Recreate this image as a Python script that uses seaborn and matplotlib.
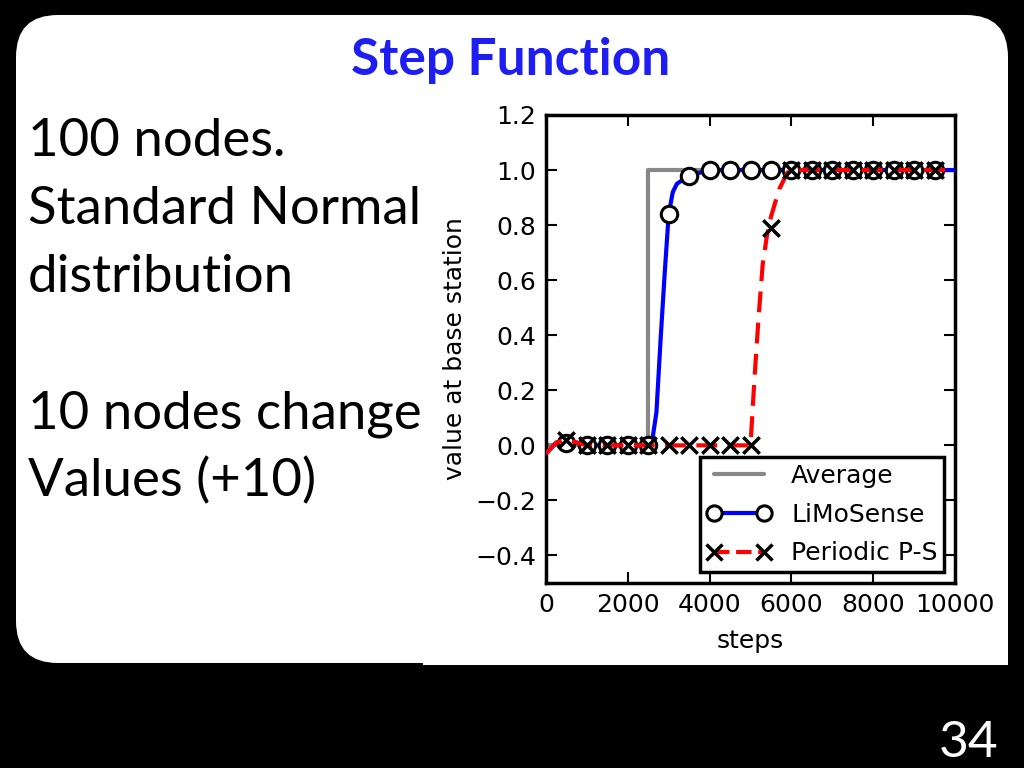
import matplotlib
matplotlib.use("Agg")
import matplotlib.pyplot as plt
from matplotlib.patches import FancyBboxPatch, Rectangle
from matplotlib.lines import Line2D
import numpy as np
import pandas as pd
import seaborn as sns

# --- data ---
avg_steps = [0, 2500, 2500, 10000]
avg_vals = [0.0, 0.0, 1.0, 1.0]

limo_steps = [0, 250, 500, 1000, 1500, 2000, 2500, 2600, 2700, 2800, 2900, 3000,
              3100, 3200, 3300, 3500, 3750, 4000, 10000]
limo_vals = [-0.03, 0.01, 0.02, 0.0, 0.0, 0.0, 0.0, 0.02, 0.12, 0.38, 0.62, 0.84,
             0.92, 0.95, 0.96, 0.98, 0.99, 1.0, 1.0]

ps_steps = [0, 250, 500, 1000, 1500, 2000, 2500, 3000, 3500, 4000, 4500, 5000,
            5100, 5200, 5300, 5400, 5500, 5600, 5700, 5800, 5900, 6000, 10000]
ps_vals = [-0.03, 0.01, 0.02, 0.0, 0.0, 0.0, 0.0, 0.0, 0.0, 0.0, 0.0, 0.0,
           0.25, 0.47, 0.66, 0.76, 0.83, 0.88, 0.93, 0.96, 0.99, 1.0, 1.0]

# markers every 500 steps, starting at 500
mark_steps = [500, 1000, 1500, 2000, 2500, 3000, 3500, 4000, 4500,
              5000, 5500, 6000, 6500, 7000, 7500, 8000, 8500, 9000, 9500]
limo_marks = [0.01, 0.0, 0.0, 0.0, 0.0, 0.84, 0.98, 1.0, 1.0,
              1.0, 1.0, 1.0, 1.0, 1.0, 1.0, 1.0, 1.0, 1.0, 1.0]
ps_marks = [0.02, 0.0, 0.0, 0.0, 0.0, 0.0, 0.0, 0.0, 0.0,
            0.0, 0.79, 1.0, 1.0, 1.0, 1.0, 1.0, 1.0, 1.0, 1.0]

x_ticks = [0, 2000, 4000, 6000, 8000, 10000]
y_ticks = [-0.4, -0.2, 0.0, 0.2, 0.4, 0.6, 0.8, 1.0, 1.2]

slide_title = "Step Function"
slide_lines = ["100 nodes.", "Standard Normal", "distribution", "", "10 nodes change", "Values (+10)"]
page_no = "34"

sns.set_style("ticks")
plt.rcParams['font.family'] = ['DejaVu Sans']
plt.rcParams['text.color'] = 'black'
plt.rcParams['axes.labelcolor'] = 'black'
slide_font = 'Lato'

fig = plt.figure(figsize=(10.24, 7.68), dpi=100, facecolor='black')

# background "slide" drawn in pixel coordinates
bg = fig.add_axes([0, 0, 1, 1])
bg.set_xlim(0, 1024)
bg.set_ylim(768, 0)
bg.axis('off')
bg.add_patch(FancyBboxPatch((16, 15), 992, 648, boxstyle='round,pad=0,rounding_size=42',
                            facecolor='white', edgecolor='none'))
bg.add_patch(Rectangle((423, 400), 585, 265, facecolor='white', edgecolor='none'))

bg.text(511, 75, slide_title, ha='center', va='baseline', fontsize=37,
        fontweight='bold', color='#1E1EF2', family=slide_font)
y0 = 156
for i, line in enumerate(slide_lines):
    bg.text(28, y0 + 68 * i, line, ha='left', va='baseline', fontsize=38,
            color='black', family=slide_font)
bg.text(998, 757, page_no, ha='right', va='baseline', fontsize=37,
        color='white', family=slide_font)

# --- chart ---
ax = fig.add_axes([546 / 1024, 1 - 583 / 768, 409 / 1024, 468 / 768])
ax.set_facecolor('white')

sns.lineplot(x=avg_steps, y=avg_vals, ax=ax, estimator=None, sort=False,
             color='#888888', linewidth=3, zorder=2)
sns.lineplot(x=limo_steps, y=limo_vals, ax=ax, estimator=None, sort=False,
             color='blue', linewidth=3, zorder=3)
sns.scatterplot(x=mark_steps, y=limo_marks, ax=ax, marker='o', s=140,
                facecolor='white', edgecolor='black', linewidth=2.2, zorder=4)
sns.lineplot(x=ps_steps, y=ps_vals, ax=ax, estimator=None, sort=False,
             color='red', linewidth=3, dashes=False, zorder=5)
ax.lines[-1].set_dashes((5, 2.5))
sns.scatterplot(x=mark_steps, y=ps_marks, ax=ax, marker='x', s=140,
                color='black', linewidth=2.5, zorder=6)

ax.set_xlim(0, 10000)
ax.set_ylim(-0.5, 1.2)
ax.set_xticks(x_ticks)
ax.set_yticks(y_ticks)
ax.set_xlabel('steps', fontsize=18, labelpad=9, color='black')
ax.set_ylabel('value at base station', fontsize=18, labelpad=6, color='black')
ax.tick_params(direction='in', top=True, right=True, length=8, width=1.5,
               labelsize=18, pad=7, colors='black')
for sp in ax.spines.values():
    sp.set_visible(True)
    sp.set_linewidth(2.5)
    sp.set_color('black')

handles = [
    Line2D([], [], color='#888888', linewidth=3),
    Line2D([], [], color='blue', linewidth=3, marker='o', markersize=11,
           markerfacecolor='white', markeredgecolor='black', markeredgewidth=2.2),
    Line2D([], [], color='red', linewidth=3, linestyle='--', marker='x', markersize=11,
           markeredgecolor='black', markeredgewidth=2.5),
]
leg = ax.legend(handles, ['Average', 'LiMoSense', 'Periodic P-S'], loc='lower right',
                fontsize=18, numpoints=2, fancybox=False, framealpha=1,
                edgecolor='black', labelspacing=0.6, handlelength=2.6,
                handletextpad=0.8, borderpad=0.25, borderaxespad=0.45)
leg.get_frame().set_linewidth(2.5)
for t in leg.get_texts():
    t.set_color('black')

fig.savefig('out.png', dpi=100, facecolor='black')
